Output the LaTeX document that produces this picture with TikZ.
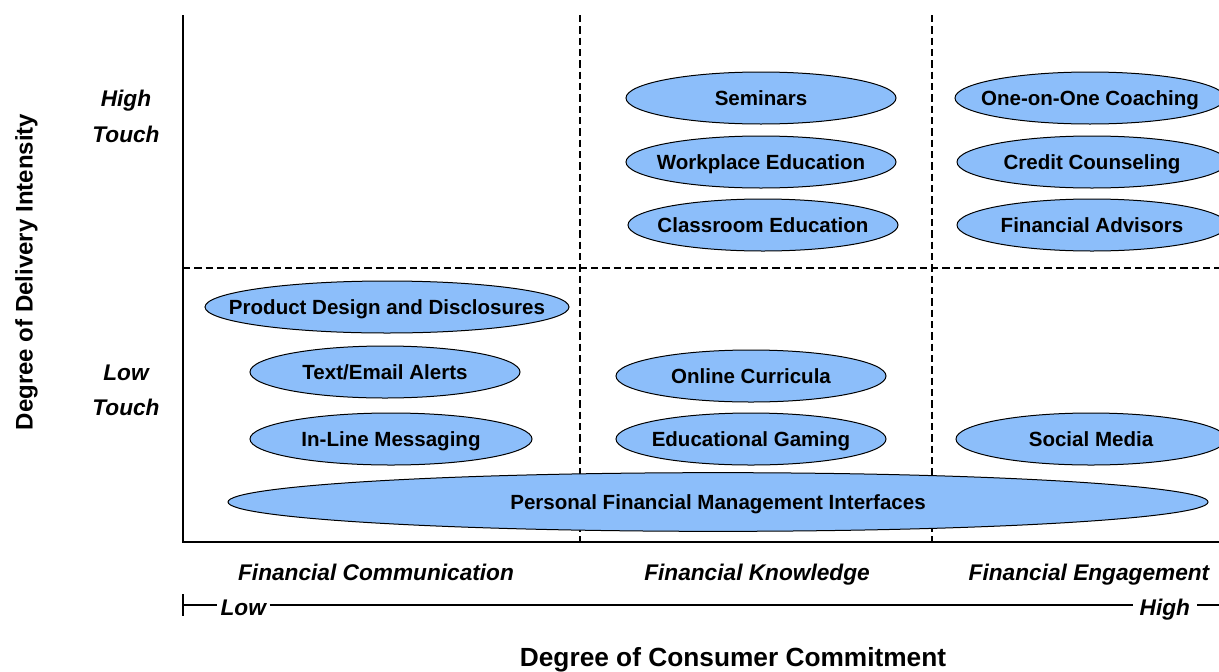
\documentclass[tikz,border=0pt]{standalone}
\usepackage{fontspec}
\setmainfont{Liberation Sans}
\usepackage{tikz}
\usetikzlibrary{shapes.geometric}
\definecolor{bubbleblue}{RGB}{140,190,250}
\newcommand{\bubtext}[1]{\makebox[0pt]{#1}}

\begin{document}
\begin{tikzpicture}[x=0.75pt,y=0.75pt,yscale=-1,xscale=1,
  bubble/.style={draw=black, line width=0.75pt, fill=bubbleblue, ellipse, inner sep=0pt,
    text height=11pt, text depth=0pt,
    minimum width=202.5pt, minimum height=39pt, font=\bfseries\fontsize{15.4}{18}\selectfont},
  rowlabel/.style={font=\bfseries\itshape\fontsize{17}{20}\selectfont, inner sep=0.75pt,
    text height=12.2pt, text depth=0pt},
  axistitle/.style={font=\bfseries\fontsize{19.7}{23}\selectfont, inner sep=0.75pt,
    text height=14pt, text depth=0pt},
  divider/.style={line width=1.5pt, dash pattern=on 5.5pt off 3pt}]
\useasboundingbox (0,0) rectangle (1219,671);
\clip (0,0) rectangle (1219,671);

%Coordinates of the frame
\coordinate (origin) at (183,542);
\coordinate (ytop) at (183,15);
\coordinate (xend) at (1219,542);
\coordinate (midtop) at (580,15);
\coordinate (midbot) at (580,542);
\coordinate (righttop) at (932,15);
\coordinate (rightbot) at (932,542);
\coordinate (splitleft) at (183,268);
\coordinate (splitright) at (1219,268);

%Straight Lines: axes
\draw [line width=1.3pt] (ytop) -- (origin) -- (xend) ;
%Straight Lines: dividers
\draw [divider] (midtop) -- (midbot) ;
\draw [divider] (righttop) -- (rightbot) ;
\draw [divider] (splitleft) -- (splitright) ;

%Shape: Ellipse (high touch)
\node [bubble] (seminars) at (761,98) {\bubtext{Seminars}};
\node [bubble] (workplace) at (761,162) {\bubtext{Workplace Education}};
\node [bubble] (classroom) at (763,225) {\bubtext{Classroom Education}};
\node [bubble] (coaching) at (1090,98) {\bubtext{One-on-One Coaching}};
\node [bubble] (credit) at (1092,162) {\bubtext{Credit Counseling}};
\node [bubble] (advisors) at (1092,225) {\bubtext{Financial Advisors}};

%Shape: Ellipse (low touch)
\node [bubble, minimum width=273pt] (disclosures) at (387,307) {\bubtext{Product Design and Disclosures}};
\node [bubble] (alerts) at (385,372) {\bubtext{Text/Email Alerts}};
\node [bubble, minimum width=211.5pt] (messaging) at (391,439) {\bubtext{In-Line Messaging}};
\node [bubble] (curricula) at (751,376) {\bubtext{Online Curricula}};
\node [bubble] (gaming) at (751,439) {\bubtext{Educational Gaming}};
\node [bubble] (social) at (1091,439) {\bubtext{Social Media}};
\node [bubble, minimum width=735pt, minimum height=44pt] (pfm) at (718,502) {\bubtext{Personal Financial Management Interfaces}};

% Text Node: rows
\node [rowlabel] (high1) at (126,98) {High};
\node [rowlabel] (high2) at (126,134) {Touch};
\node [rowlabel] (low1) at (126,372) {Low};
\node [rowlabel] (low2) at (126,407) {Touch};

% Text Node: columns
\node [rowlabel] (comm) at (376,572) {Financial Communication};
\node [rowlabel] (know) at (757,572) {Financial Knowledge};
\node [rowlabel] (engage) at (1089,572) {Financial Engagement};

%Scale line
\coordinate (tickup) at (183,594);
\coordinate (tickdown) at (183,616);
\coordinate (tick) at (183,605);
\coordinate (scaleend) at (1219,605);
\draw [line width=1.1pt] (tickup) -- (tickdown) ;
\node [rowlabel, inner xsep=2.5pt, anchor=west] (low) at (217,607) {Low};
\node [rowlabel, inner xsep=5pt, anchor=east] (high) at (1197,607) {High};
\draw [line width=1.1pt] (tick) -- (tick -| low.west) ;
\draw [line width=1.1pt] (low.east |- tick) -- (high.west |- tick) ;
\draw [line width=1.1pt] (high.east |- tick) -- (scaleend) ;

% Text Node: axis titles
\node [axistitle] (xtitle) at (733,657) {Degree of Consumer Commitment};
\node [axistitle, rotate=90, text height=12.9pt, font=\bfseries\fontsize{18}{21}\selectfont] (ytitle) at (24,272) {Degree of Delivery Intensity};
\end{tikzpicture}
\end{document}
